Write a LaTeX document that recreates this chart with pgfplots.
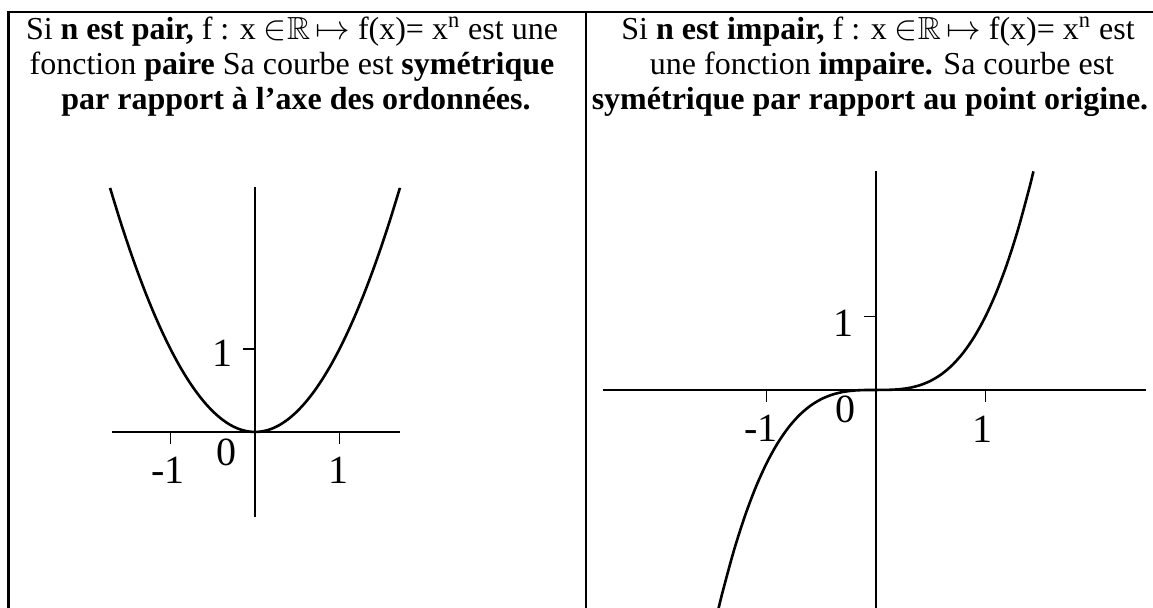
\documentclass[border=0pt]{standalone}
\usepackage{fontspec}
\setmainfont{Liberation Serif}
\usepackage{amssymb}
\usepackage{pgfplots}
\pgfplotsset{compat=1.18}
\begin{document}
\begin{tikzpicture}
\useasboundingbox (0,0) rectangle (576.5pt,304pt);
\fill[white] (0,0) rectangle (576.5pt,304pt);
% table borders
\draw[line width=1.3pt] (4.35pt,0) -- (4.35pt,298pt) -- (576.5pt,298pt);
\draw[line width=1.1pt] (292.9pt,0) -- (292.9pt,298pt);
% headings
\begin{scope}[every node/.style={anchor=base, inner sep=0pt, font=\fontsize{16pt}{18pt}\selectfont}]
\node at (146pt,284pt) {Si \textbf{n est pair,} f : x $\in$$\mathbb{R}$\,$\mapsto$ f(x)= x\textsuperscript{n} est une};
\node at (146pt,266.5pt) {fonction \textbf{paire} Sa courbe est \textbf{symétrique}};
\node at (148pt,249pt) {\textbf{par rapport à l’axe des ordonnées.}};
\node at (439pt,284pt) {Si \textbf{n est impair,} f : x $\in$$\mathbb{R}$\,$\mapsto$ f(x)= x\textsuperscript{n} est};
\node at (441pt,266.5pt) {une fonction \textbf{impaire.} Sa courbe est};
\node at (435pt,249pt) {\textbf{symétrique par rapport au point origine.}};
\end{scope}
% left plot: x^2
\begin{axis}[
  at={(56pt,45.5pt)}, anchor=south west,
  scale only axis, width=144pt, height=165pt,
  xmin=-1.692, xmax=1.716, ymin=-1.024, ymax=2.952,
  axis lines=middle, axis line style={-, line width=0.8pt, black},
  xtick={-1,1}, ytick={1}, xticklabels={}, yticklabels={},
  tick align=outside, major tick length=6pt,
  tick style={line width=0.8pt, black},
  clip=false,
]
\addplot[black, line width=1.3pt, smooth] coordinates {
(-1.715,2.941) (-1.6,2.56) (-1.5,2.25) (-1.4,1.96) (-1.3,1.69) (-1.2,1.44)
(-1.1,1.21) (-1.0,1.0) (-0.9,0.81) (-0.8,0.64) (-0.7,0.49) (-0.6,0.36)
(-0.5,0.25) (-0.4,0.16) (-0.3,0.09) (-0.2,0.04) (-0.1,0.01) (0,0)
(0.1,0.01) (0.2,0.04) (0.3,0.09) (0.4,0.16) (0.5,0.25) (0.6,0.36)
(0.7,0.49) (0.8,0.64) (0.9,0.81) (1.0,1.0) (1.1,1.21) (1.2,1.44)
(1.3,1.69) (1.4,1.96) (1.5,2.25) (1.6,2.56) (1.715,2.941)};
\begin{scope}[every node/.style={inner sep=0pt, font=\fontsize{20pt}{20pt}\selectfont}]
\node at (axis cs:-1.03,-0.46) {-1};
\node at (axis cs:-0.34,-0.24) {0};
\node at (axis cs:0.994,-0.46) {1};
\node at (axis cs:-0.39,0.95) {1};
\end{scope}
\end{axis}
% right plot: x^3
\begin{axis}[
  at={(301.5pt,-1.25pt)}, anchor=south west,
  scale only axis, width=271.5pt, height=219.8pt,
  xmin=-2.493, xmax=2.466, ymin=-3, ymax=2.98,
  axis lines=middle, axis line style={-, line width=0.8pt, black},
  xtick={-1,1}, ytick={1}, xticklabels={}, yticklabels={},
  tick align=outside, major tick length=6pt,
  tick style={line width=0.8pt, black},
  clip=false,
]
\addplot[black, line width=1.3pt, smooth] coordinates {
(-1.442,-2.998) (-1.4,-2.744) (-1.3,-2.197) (-1.2,-1.728) (-1.1,-1.331)
(-1.0,-1.0) (-0.9,-0.729) (-0.8,-0.512) (-0.7,-0.343) (-0.6,-0.216)
(-0.5,-0.125) (-0.4,-0.064) (-0.3,-0.027) (-0.2,-0.008) (-0.1,-0.001) (0,0)
(0.1,0.001) (0.2,0.008) (0.3,0.027) (0.4,0.064) (0.5,0.125) (0.6,0.216)
(0.7,0.343) (0.8,0.512) (0.9,0.729) (1.0,1.0) (1.1,1.331) (1.2,1.728)
(1.3,2.197) (1.4,2.744) (1.438,2.974)};
\begin{scope}[every node/.style={inner sep=0pt, font=\fontsize{20pt}{20pt}\selectfont}]
\node at (axis cs:-1.05,-0.52) {-1};
\node at (axis cs:-0.28,-0.27) {0};
\node at (axis cs:0.97,-0.54) {1};
\node at (axis cs:-0.3,0.9) {1};
\end{scope}
\end{axis}
\end{tikzpicture}
\end{document}
